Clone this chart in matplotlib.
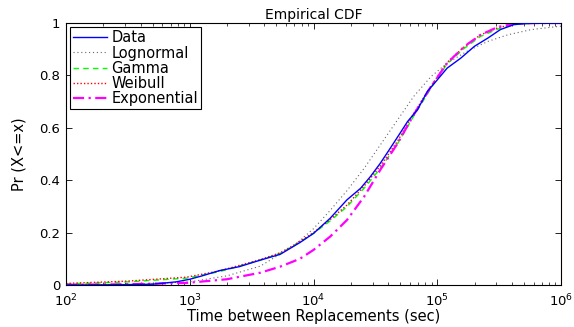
import matplotlib
matplotlib.use("Agg")
import matplotlib.pyplot as plt
import numpy as np

plt.rcParams['font.family'] = ['DejaVu Sans']

# log10(time) and CDF values
data_logx = [2.0, 2.4, 2.7, 2.76, 2.89, 3.0, 3.1, 3.24, 3.4, 3.57, 3.73, 3.89, 4.0, 4.135,
             4.27, 4.38, 4.46, 4.54, 4.62, 4.70, 4.76, 4.84, 4.92, 5.0, 5.08, 5.19, 5.30,
             5.41, 5.51, 5.62, 5.76, 6.0]
data_y = [0.0, 0.001, 0.003, 0.006, 0.012, 0.022, 0.035, 0.055, 0.07, 0.095, 0.117, 0.162,
          0.197, 0.255, 0.325, 0.369, 0.414, 0.465, 0.522, 0.58, 0.624, 0.669, 0.739, 0.783,
          0.828, 0.866, 0.911, 0.943, 0.975, 0.994, 1.0, 1.0]

logn_logx = [2.0, 2.5, 3.0, 3.3, 3.57, 3.73, 3.84, 4.0, 4.135, 4.27, 4.41, 4.54, 4.68,
             4.81, 4.95, 5.08, 5.24, 5.41, 5.57, 5.76, 6.0]
logn_y = [0.0005, 0.002, 0.012, 0.035, 0.072, 0.118, 0.15, 0.215, 0.285, 0.36, 0.446,
          0.535, 0.631, 0.72, 0.796, 0.847, 0.892, 0.93, 0.955, 0.975, 0.988]

gamma_logx = [2.0, 2.5, 2.975, 3.24, 3.57, 3.73, 3.84, 4.0, 4.135, 4.27, 4.41, 4.54, 4.68,
              4.81, 4.95, 5.08, 5.22, 5.35, 5.49, 5.62, 5.8, 6.0]
gamma_y = [0.004, 0.012, 0.026, 0.051, 0.095, 0.121, 0.15, 0.197, 0.245, 0.299, 0.37, 0.445,
           0.54, 0.645, 0.752, 0.845, 0.904, 0.949, 0.977, 0.994, 1.0, 1.0]

weib_logx = [2.0, 2.5, 2.975, 3.24, 3.57, 3.73, 3.84, 4.0, 4.135, 4.27, 4.41, 4.54, 4.68,
             4.81, 4.95, 5.08, 5.22, 5.35, 5.49, 5.62, 5.8, 6.0]
weib_y = [0.006, 0.015, 0.03, 0.054, 0.097, 0.123, 0.152, 0.2, 0.25, 0.305, 0.378, 0.455,
          0.55, 0.655, 0.76, 0.85, 0.91, 0.955, 0.982, 0.996, 1.0, 1.0]

expo_logx = [2.0, 2.5, 2.975, 3.3, 3.57, 3.73, 3.89, 4.0, 4.135, 4.27, 4.41, 4.54, 4.68,
             4.81, 4.95, 5.08, 5.22, 5.35, 5.49, 5.62, 5.8, 6.0]
expo_y = [0.001, 0.003, 0.008, 0.022, 0.047, 0.07, 0.1, 0.134, 0.185, 0.248, 0.338, 0.44,
          0.541, 0.65, 0.758, 0.847, 0.911, 0.955, 0.985, 0.997, 1.0, 1.0]

yticks = [0, 0.2, 0.4, 0.6, 0.8, 1.0]
ytick_labels = ['0', '0.2', '0.4', '0.6', '0.8', '1']

fig = plt.figure(figsize=(5.74, 3.27), dpi=100)
ax = fig.add_axes([0.115, 0.1284, 0.8624, 0.8012])

ax.plot(10 ** np.array(data_logx), data_y, color=(0, 0, 1), lw=1.0, label='Data', zorder=5)
ax.plot(10 ** np.array(logn_logx), logn_y, color='#666666', lw=0.8, ls=(0, (1, 2.5)), label='Lognormal')
ax.plot(10 ** np.array(gamma_logx), gamma_y, color=(0, 1, 0), lw=1.0, ls=(0, (4, 3)), label='Gamma')
ax.plot(10 ** np.array(weib_logx), weib_y, color=(1, 0, 0), lw=1.0, ls=(0, (1, 1.5)), label='Weibull')
ax.plot(10 ** np.array(expo_logx), expo_y, color=(1, 0, 1), lw=1.6, ls=(0, (5, 2, 1, 2)), label='Exponential')

ax.set_xscale('log')
ax.set_xlim(1e2, 1e6)
ax.set_ylim(0, 1)
ax.set_yticks(yticks)
ax.set_yticklabels(ytick_labels)
ax.tick_params(which='both', direction='in', top=True, right=True, labelsize=9.5)
ax.tick_params(axis='y', pad=4)
ax.tick_params(axis='x', pad=5.5)
ax.tick_params(which='major', length=4, width=0.6)
ax.tick_params(which='minor', length=2, width=0.5)
for s in ax.spines.values():
    s.set_linewidth(0.8)

ax.set_title('Empirical CDF', fontsize=10, pad=3)
ax.set_xlabel('Time between Replacements (sec)', fontsize=10.5, labelpad=0)
ax.set_ylabel('Pr (X<=x)', fontsize=10.5)
ax.yaxis.set_label_coords(-0.079, 0.5)

leg = ax.legend(loc='upper left', fontsize=10.5, frameon=True, fancybox=False,
                borderaxespad=0.3, handlelength=2.3, handletextpad=0.3,
                labelspacing=0.02, borderpad=0.2)
leg.get_frame().set_edgecolor('black')
leg.get_frame().set_linewidth(0.8)
leg.get_frame().set_alpha(1)

fig.savefig('out.png', dpi=100)
